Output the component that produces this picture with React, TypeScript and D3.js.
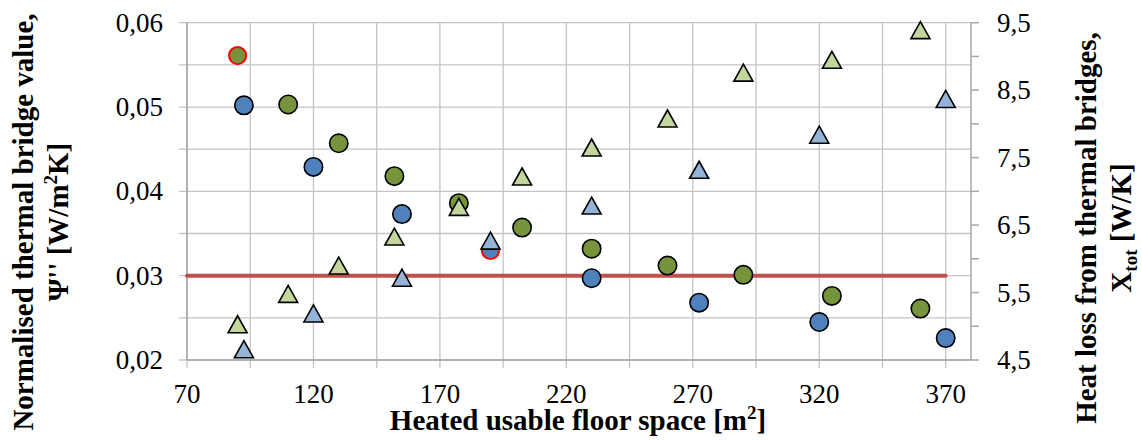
import React from "react";
import * as d3 from "d3";

// Floor area [m2] and normalised thermal bridge value Ψ'' [W/m2K] (left axis)
const blueCircleX = [92.5, 120, 155, 190, 230, 272.5, 320, 370];
const blueCircleY = [0.0502, 0.0429, 0.0373, 0.0330, 0.0297, 0.0268, 0.0245, 0.0226];
const greenCircleX = [90, 110, 130, 152, 177.5, 202.5, 230, 260, 290, 325, 360];
const greenCircleY = [0.0561, 0.0503, 0.0457, 0.0418, 0.0386, 0.0357, 0.0332, 0.0312, 0.0301, 0.0276, 0.0261];
// Heat loss from thermal bridges X_tot [W/K] (right axis)
const greenTriX = [90, 110, 130, 152, 177.5, 202.5, 230, 260, 290, 325, 360];
const greenTriY = [5.03, 5.48, 5.9, 6.33, 6.77, 7.22, 7.65, 8.08, 8.76, 8.95, 9.39];
const blueTriX = [92.5, 120, 155, 190, 230, 272.5, 320, 370];
const blueTriY = [4.66, 5.19, 5.72, 6.27, 6.79, 7.32, 7.84, 8.37];
// Highlighted points (red outline)
const highlightX = [90, 190];
const highlightY = [0.0561, 0.033];
const highlightFill = ["#77933c", "#4f81bd"];
// Reference line
const refLineX = [70, 370];
const refLineY = 0.03;

const xTickLabels = [70, 120, 170, 220, 270, 320, 370];
const xGrid = d3.range(70, 381, 25);
const yLeftTicks = d3.range(0.02, 0.0601, 0.005);
const yLeftLabels = [0.02, 0.03, 0.04, 0.05, 0.06];
const yRightTicks = d3.range(4.5, 9.51, 0.5);
const yRightLabels = [4.5, 5.5, 6.5, 7.5, 8.5, 9.5];

const W = 1142, H = 440;
const x = d3.scaleLinear().domain([70, 380]).range([187, 971]);
const yL = d3.scaleLinear().domain([0.02, 0.06]).range([360, 22.7]);
const yR = d3.scaleLinear().domain([4.5, 9.5]).range([360, 22.7]);

const fmt = (v: number, d: number) => v.toFixed(d).replace(".", ",");
const FONT = "'Liberation Serif', 'Times New Roman', serif";

function tri(cx: number, cy: number, w = 19, h = 17) {
  return `M${cx},${cy - h / 2}L${cx + w / 2},${cy + h / 2}L${cx - w / 2},${cy + h / 2}Z`;
}

const isHighlight = (v: number, y: number) =>
  highlightX.some((hx, j) => hx === v && Math.abs(highlightY[j] - y) < 1e-6);

export default function App() {
  const grid = "#c4c4c4";
  const axis = "#a6a6a6";
  const TS = 29;
  return (
    <svg width={W} height={H} style={{ position: "absolute", left: 0, top: 0, background: "#fff", fontFamily: FONT }}>
      {/* horizontal gridlines */}
      {yLeftTicks.map((t, i) => (
        <line key={"hg" + i} x1={x(70) - 8} x2={x(380)} y1={yL(t)} y2={yL(t)} stroke={grid} strokeWidth={1.3} />
      ))}
      {/* vertical gridlines */}
      {xGrid.map((t, i) => (
        <line key={"vg" + i} x1={x(t)} x2={x(t)} y1={yL(0.06)} y2={yL(0.02) + 8} stroke={grid} strokeWidth={1.3} />
      ))}
      {/* axes */}
      <line x1={x(70)} x2={x(70)} y1={yL(0.06)} y2={yL(0.02)} stroke={axis} strokeWidth={1.5} />
      <line x1={x(70)} x2={x(380)} y1={yL(0.02)} y2={yL(0.02)} stroke={axis} strokeWidth={1.5} />
      <line x1={x(380)} x2={x(380)} y1={yR(9.5)} y2={yR(4.5)} stroke={axis} strokeWidth={1.5} />
      {yRightTicks.map((t, i) => (
        <line key={"rt" + i} x1={x(380)} x2={x(380) + 8} y1={yR(t)} y2={yR(t)} stroke={axis} strokeWidth={1.5} />
      ))}
      {/* tick labels */}
      {xTickLabels.map((t) => (
        <text key={"xl" + t} x={x(t)} y={403} fontSize={27} textAnchor="middle" fill="#000">{t}</text>
      ))}
      {yLeftLabels.map((t) => (
        <text key={"yl" + t} x={163} y={yL(t) + 9} fontSize={27} textAnchor="end" fill="#000">{fmt(t, 2)}</text>
      ))}
      {yRightLabels.map((t) => (
        <text key={"yr" + t} x={997} y={yR(t) + 9} fontSize={27} textAnchor="start" fill="#000">{fmt(t, 1)}</text>
      ))}
      {/* reference line */}
      <line x1={x(refLineX[0])} x2={x(refLineX[1])} y1={yL(refLineY)} y2={yL(refLineY)} stroke="#c0504d" strokeWidth={4} strokeLinecap="round" />
      {/* circles */}
      {blueCircleX.map((v, i) =>
        isHighlight(v, blueCircleY[i]) ? null : (
          <circle key={"bc" + i} cx={x(v)} cy={yL(blueCircleY[i])} r={9.2} fill="#4f81bd" stroke="#000" strokeWidth={1.6} />
        )
      )}
      {greenCircleX.map((v, i) =>
        isHighlight(v, greenCircleY[i]) ? null : (
          <circle key={"gc" + i} cx={x(v)} cy={yL(greenCircleY[i])} r={9.2} fill="#77933c" stroke="#000" strokeWidth={1.6} />
        )
      )}
      {highlightX.map((v, i) => (
        <circle key={"hc" + i} cx={x(v)} cy={yL(highlightY[i])} r={8.6} fill={highlightFill[i]} stroke="#ff0000" strokeWidth={2} />
      ))}
      {/* triangles */}
      {greenTriX.map((v, i) => (
        <path key={"gt" + i} d={tri(x(v), yR(greenTriY[i]))} fill="#c3d69b" stroke="#000" strokeWidth={1.6} />
      ))}
      {blueTriX.map((v, i) => (
        <path key={"bt" + i} d={tri(x(v), yR(blueTriY[i]))} fill="#95b3d7" stroke="#000" strokeWidth={1.6} />
      ))}
      {/* axis titles */}
      <text x={578} y={430} fontSize={TS} fontWeight="bold" textAnchor="middle" fill="#000">
        Heated usable floor space [m<tspan fontSize={19} dy={-11}>2</tspan><tspan dy={11}>]</tspan>
      </text>
      <g transform="translate(33,222) rotate(-90)">
        <text x={0} y={0} fontSize={TS} fontWeight="bold" textAnchor="middle" fill="#000">Normalised thermal bridge value,</text>
        <text x={0} y={35} fontSize={TS} fontWeight="bold" textAnchor="middle" fill="#000">
          Ψ'' [W/m<tspan fontSize={19} dy={-11}>2</tspan><tspan dy={11}>K]</tspan>
        </text>
      </g>
      <g transform="translate(1096,228) rotate(-90)">
        <text x={0} y={0} fontSize={TS} fontWeight="bold" textAnchor="middle" fill="#000">Heat loss from thermal bridges,</text>
        <text x={0} y={35} fontSize={TS} fontWeight="bold" textAnchor="middle" fill="#000">
          X<tspan fontSize={19} dy={6}>tot</tspan><tspan dy={-6}> [W/K]</tspan>
        </text>
      </g>
    </svg>
  );
}
